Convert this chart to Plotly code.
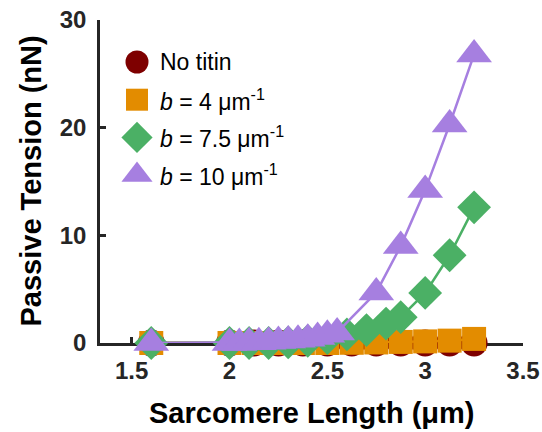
import plotly.graph_objects as go

# ---------------- data ----------------
x_circ = [1.6, 2.0, 2.125, 2.25, 2.375, 2.5, 2.625, 2.75, 2.875, 3.0, 3.125, 3.25]
y_circ = [0, 0, 0, 0, 0, 0, 0, 0, 0, 0, 0, 0]

x_sq = [1.6, 2.0, 2.125, 2.25, 2.375, 2.5, 2.625, 2.75, 2.875, 3.0, 3.125, 3.25]
y_sq = [0, 0, 0, 0, 0, 0, 0.02, 0.05, 0.1, 0.15, 0.22, 0.38]

x_dia = [1.6, 2.0, 2.1, 2.2, 2.3, 2.4, 2.5, 2.6, 2.7, 2.8, 2.875, 3.0, 3.125, 3.25]
y_dia = [0, 0, 0, 0, 0.05, 0.2, 0.45, 0.8, 1.2, 1.8, 2.4, 4.65, 8.15, 12.6]

x_tri = [1.6, 2.0, 2.05, 2.1, 2.15, 2.2, 2.25, 2.3, 2.35, 2.4, 2.45, 2.5, 2.55,
         2.75, 2.875, 3.0, 3.125, 3.25]
y_tri = [0, 0, 0, 0.06, 0.06, 0.12, 0.19, 0.24, 0.3, 0.4, 0.56, 0.77, 0.98,
         4.7, 9.0, 14.2, 20.3, 26.8]

names = ["No titin", "<i>b</i> = 4 μm<sup>-1</sup>",
         "<i>b</i> = 7.5 μm<sup>-1</sup>", "<i>b</i> = 10 μm<sup>-1</sup>"]
colors = ["#7E0000", "#E38C00", "#4BB065", "#A67FE0"]
symbols = ["circle", "square", "diamond", "triangle-up"]
sizes = [27, 24, 26, 31]
legend_sizes = [23, 22, 24, 27]

x_ticks = [1.5, 2, 2.5, 3, 3.5]
x_ticktext = ["1.5", "2", "2.5", "3", "3.5"]
y_ticks = [0, 10, 20, 30]
y_ticktext = ["0", "10", "20", "30"]

FONT = "Liberation Sans, Arial, Helvetica, sans-serif"
AX = "#262626"

W, H = 542, 432
ML, MR, MT, MB = 100, 19, 20, 89
PW, PH = W - ML - MR, H - MT - MB

fig = go.Figure()
series = [(x_circ, y_circ), (x_sq, y_sq), (x_dia, y_dia), (x_tri, y_tri)]
for (xs, ys), nm, c, s, sz in zip(series, names, colors, symbols, sizes):
    fig.add_trace(go.Scatter(
        x=xs, y=ys, mode="lines+markers", name=nm, showlegend=False,
        line=dict(color=c, width=2.5),
        marker=dict(symbol=s, size=sz, color=c, opacity=1, line=dict(width=0)),
        cliponaxis=False,
    ))

# custom legend (large markers) on an overlay axis measured in pixels
leg_x0, leg_y0, leg_dy, txt_dx = 37, 42, 37.7, 21
leg_y = [leg_y0 + i * leg_dy for i in range(len(names))]
fig.add_trace(go.Scatter(
    x=[leg_x0] * len(names), y=leg_y, xaxis="x2", yaxis="y2",
    mode="markers", showlegend=False, hoverinfo="skip", cliponaxis=False,
    marker=dict(symbol=symbols, size=legend_sizes, color=colors, opacity=1,
                line=dict(width=0)),
))
annotations = []
for nm, yy in zip(names, leg_y):
    annotations.append(dict(
        x=leg_x0 + txt_dx, y=yy, xref="x2", yref="y2", text=nm,
        showarrow=False, xanchor="left", yanchor="middle",
        font=dict(family=FONT, size=23, color="#000000"),
    ))

# axis titles
annotations.append(dict(
    x=0.5, y=0, xref="paper", yref="paper", yshift=-70, text="<b>Sarcomere Length (μm)</b>",
    showarrow=False, xanchor="center", yanchor="middle",
    font=dict(family=FONT, size=29, color="#000000"),
))
annotations.append(dict(
    x=0, y=0.5, xref="paper", yref="paper", xshift=-70, text="<b>Passive Tension (nN)</b>",
    showarrow=False, xanchor="center", yanchor="middle", textangle=-90,
    font=dict(family=FONT, size=29, color="#000000"),
))

axis_common = dict(
    showline=True, linewidth=2.5, linecolor=AX, ticks="inside", ticklen=6,
    tickwidth=2.5, tickcolor=AX, showgrid=False, zeroline=False, mirror=False,
    layer="below traces", automargin=False,
    tickfont=dict(family=FONT, size=24, color=AX, weight="bold"),
)

fig.update_layout(
    width=W, height=H, margin=dict(l=ML, r=MR, t=MT, b=MB, autoexpand=False),
    paper_bgcolor="white", plot_bgcolor="white",
    xaxis=dict(range=[1.338, 3.5], tickvals=x_ticks, ticktext=x_ticktext,
               ticklabelstandoff=4, **axis_common),
    yaxis=dict(range=[0, 30], tickvals=y_ticks, ticktext=y_ticktext,
               ticklabelstandoff=6, **axis_common),
    xaxis2=dict(overlaying="x", range=[0, PW], visible=False, fixedrange=True),
    yaxis2=dict(overlaying="y", range=[PH, 0], visible=False, fixedrange=True),
    annotations=annotations,
    showlegend=False,
)

fig.write_html("out.html")
